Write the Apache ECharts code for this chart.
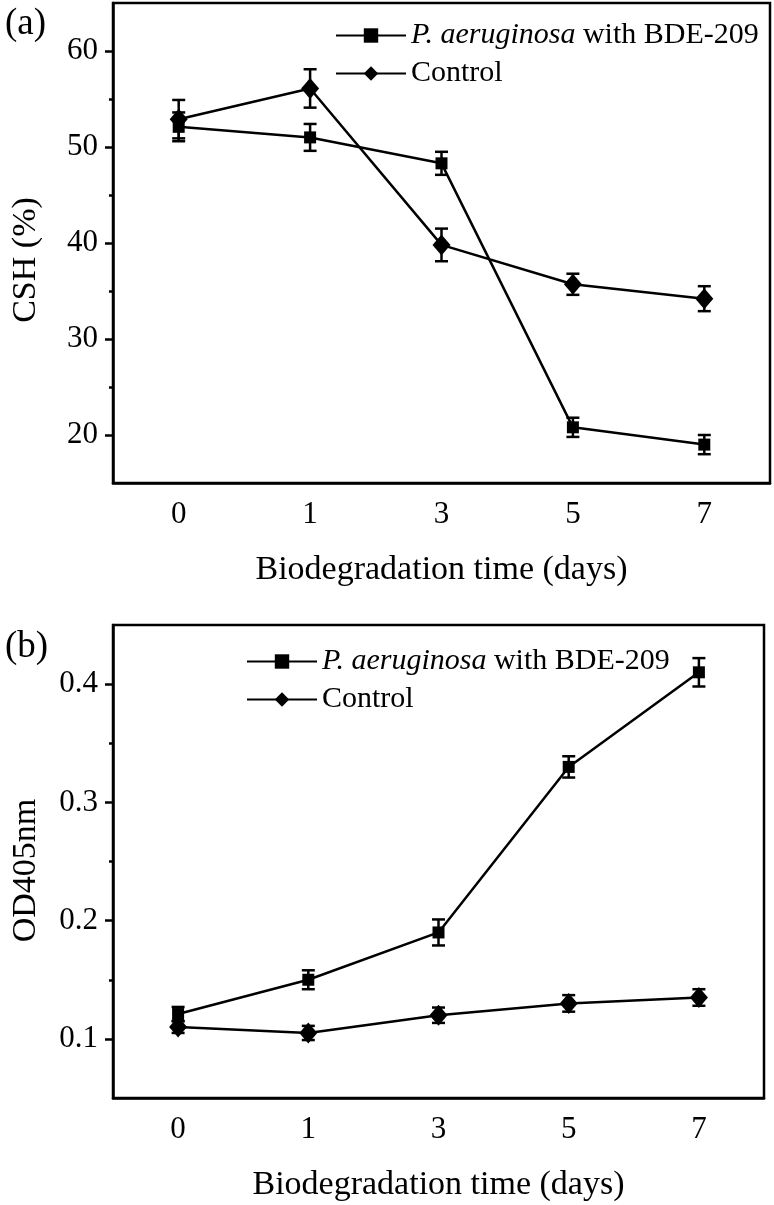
<!DOCTYPE html>
<html>
<head>
<meta charset="utf-8">
<script src="https://cdn.jsdelivr.net/npm/echarts@6/dist/echarts.min.js"></script>
<style>
html,body{margin:0;padding:0;background:#fff;}
#chart{width:774px;height:1205px;}
</style>
</head>
<body>
<div id="chart"></div>
<script>
// ---- data ----
const days = ['0', '1', '3', '5', '7'];
const seriesNames = ['P. aeruginosa with BDE-209', 'Control'];

const cshPa = [52.1, 51.0, 48.3, 20.8, 19.0];
const cshPaErr = [1.5, 1.4, 1.2, 1.0, 1.0];
const cshCtrl = [52.9, 56.1, 39.8, 35.7, 34.2];
const cshCtrlErr = [2.0, 2.0, 1.7, 1.1, 1.3];

const odPa = [0.121, 0.150, 0.190, 0.330, 0.410];
const odPaErr = [0.006, 0.008, 0.011, 0.009, 0.012];
const odCtrl = [0.110, 0.105, 0.120, 0.130, 0.135];
const odCtrlErr = [0.005, 0.006, 0.0065, 0.007, 0.007];

const cshTicks = [20, 30, 40, 50, 60];
const cshMinor = [25, 35, 45, 55];
const odTicks = [0.1, 0.2, 0.3, 0.4];
const odMinor = [0.15, 0.25, 0.35];

// ---- helpers ----
const FONT = 'Liberation Serif';
function errData(vals, errs) {
  return vals.map((v, i) => [i, v - errs[i], v + errs[i]]);
}
function renderErr(params, api) {
  const x = api.value(0);
  const lo = api.coord([x, api.value(1)]);
  const hi = api.coord([x, api.value(2)]);
  const hw = 6.5;
  const st = { stroke: '#000', lineWidth: 2.5 };
  return {
    type: 'group',
    children: [
      { type: 'line', shape: { x1: lo[0], y1: lo[1], x2: hi[0], y2: hi[1] }, style: st },
      { type: 'line', shape: { x1: lo[0] - hw, y1: lo[1], x2: lo[0] + hw, y2: lo[1] }, style: st },
      { type: 'line', shape: { x1: hi[0] - hw, y1: hi[1], x2: hi[0] + hw, y2: hi[1] }, style: st }
    ]
  };
}
function xAxisCfg(gi) {
  return {
    type: 'category', gridIndex: gi, data: days, boundaryGap: true,
    name: 'Biodegradation time (days)', nameLocation: 'middle', nameGap: 70,
    nameTextStyle: { fontFamily: FONT, fontSize: 34, color: '#000' },
    axisLine: { lineStyle: { color: '#000', width: 2.5 } },
    axisTick: { alignWithLabel: true, length: 8, lineStyle: { color: '#000', width: 2.5 } },
    axisLabel: { fontFamily: FONT, fontSize: 31, color: '#000', margin: 16 },
    splitLine: { show: false }
  };
}
function yAxisCfg(gi, min, max, name, ticks, pad) {
  return {
    type: 'value', gridIndex: gi, min: min, max: max, position: 'left',
    name: name, nameLocation: 'middle', nameGap: 70,
    nameTextStyle: { fontFamily: FONT, fontSize: 34, color: '#000', padding: pad },
    axisLine: { show: true, lineStyle: { color: '#000', width: 2.5 } },
    axisTick: { show: true, customValues: ticks, length: 8, lineStyle: { color: '#000', width: 2.5 } },
    axisLabel: { customValues: ticks, fontFamily: FONT, fontSize: 31, color: '#000', margin: 15 },
    splitLine: { show: false }
  };
}
function yMinorCfg(gi, min, max, ticks) {
  return {
    type: 'value', gridIndex: gi, min: min, max: max, position: 'left', offset: 0,
    axisLine: { show: false },
    axisTick: { show: true, customValues: ticks, length: 4, lineStyle: { color: '#000', width: 2.5 } },
    axisLabel: { show: false, customValues: ticks },
    splitLine: { show: false }
  };
}
function lineSeries(name, xi, yi, data, symbol, size) {
  return {
    type: 'line', name: name, xAxisIndex: xi, yAxisIndex: yi, data: data,
    symbol: symbol, symbolSize: size,
    lineStyle: { color: '#000', width: 2.5 },
    itemStyle: { color: '#000' },
    z: 3
  };
}
function errSeries(xi, yi, vals, errs) {
  return {
    type: 'custom', xAxisIndex: xi, yAxisIndex: yi,
    data: errData(vals, errs), renderItem: renderErr,
    encode: { x: 0, y: [1, 2] }, z: 4, silent: true
  };
}
function legendCfg(left, top) {
  return {
    orient: 'vertical', left: left, top: top, padding: 0,
    data: seriesNames,
    itemWidth: 70, itemHeight: 18, itemGap: 5,
    textStyle: {
      fontFamily: FONT, fontSize: 30, color: '#000', lineHeight: 33,
      rich: { i: { fontFamily: FONT, fontSize: 30, fontStyle: 'italic', color: '#000' } }
    },
    formatter: function (n) {
      return n === seriesNames[0] ? '{i|P. aeruginosa} with BDE-209' : n;
    }
  };
}

const chart = echarts.init(document.getElementById('chart'), null, { renderer: 'canvas' });
const option = {
  backgroundColor: '#fff',
  animation: false,
  title: [
    { text: '(a)', left: 0, top: 1, textStyle: { fontFamily: FONT, fontSize: 37, fontWeight: 'normal', color: '#000' } },
    { text: '(b)', left: 0, top: 624, textStyle: { fontFamily: FONT, fontSize: 37, fontWeight: 'normal', color: '#000' } }
  ],
  legend: [legendCfg(335, 19), legendCfg(246, 645)],
  grid: [
    { left: 113, right: 4, top: 3, height: 480, show: true, borderColor: '#000', borderWidth: 2.5, backgroundColor: 'transparent' },
    { left: 113, right: 10, top: 625, height: 473, show: true, borderColor: '#000', borderWidth: 2.5, backgroundColor: 'transparent' }
  ],
  xAxis: [xAxisCfg(0), xAxisCfg(1)],
  yAxis: [
    yAxisCfg(0, 15, 65, 'CSH (%)', cshTicks, [0, 34, 0, 0]),
    yAxisCfg(1, 0.05, 0.45, 'OD405nm', odTicks, [0, 18, 0, 0]),
    yMinorCfg(0, 15, 65, cshMinor),
    yMinorCfg(1, 0.05, 0.45, odMinor)
  ],
  series: [
    lineSeries(seriesNames[0], 0, 0, cshPa, 'rect', 12),
    lineSeries(seriesNames[1], 0, 0, cshCtrl, 'diamond', [18, 21]),
    errSeries(0, 0, cshPa, cshPaErr),
    errSeries(0, 0, cshCtrl, cshCtrlErr),
    lineSeries(seriesNames[0], 1, 1, odPa, 'rect', 12),
    lineSeries(seriesNames[1], 1, 1, odCtrl, 'diamond', [18, 21]),
    errSeries(1, 1, odPa, odPaErr),
    errSeries(1, 1, odCtrl, odCtrlErr)
  ]
};
chart.setOption(option);
</script>
</body>
</html>
